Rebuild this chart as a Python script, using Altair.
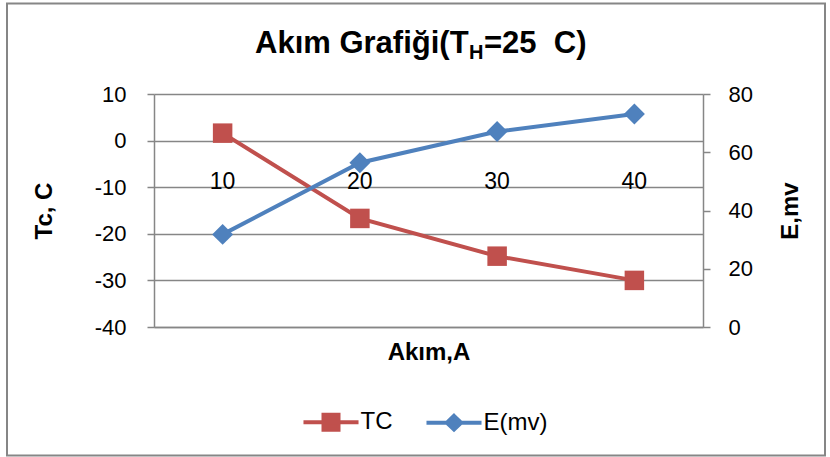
import altair as alt
import pandas as pd

# ---- data ----
akim = ["10", "20", "30", "40"]
tc = [1.6, -16.7, -24.8, -30.0]
e_mv = [31.8, 56.4, 67.1, 73.1]
series = ["TC", "E(mv)"]
colors = ["#C0504D", "#4F81BD"]
left_ticks = [-40, -30, -20, -10, 0, 10]
right_ticks = [0, 20, 40, 60, 80]
title_parts = ["Akım Grafiği(T", "H", "=25\u00a0\u00a0C)"]

FONT = "Liberation Sans"
GRID = "#868686"
W, H = 549, 233

df = pd.DataFrame({"Akım": akim, "TC": tc, "E": e_mv})
legend_df = pd.DataFrame({"series": series})
one = pd.DataFrame({"k": [0]})

x_enc = alt.X(
    "Akım:O", sort=akim,
    scale=alt.Scale(type="point", padding=0.5),
    axis=alt.Axis(title="Akım,A", labels=False, ticks=False, domain=True,
                  domainColor=GRID, domainWidth=1.5, titleFont=FONT,
                  titleFontSize=24, titleFontWeight="bold", titleColor="black",
                  titlePadding=13),
)

y_left = alt.Y(
    "TC:Q", scale=alt.Scale(domain=[-40, 10], nice=False, zero=False),
    axis=alt.Axis(orient="left", values=left_ticks, grid=True, gridColor=GRID,
                  gridWidth=1.5, domainColor=GRID, domainWidth=1.5,
                  tickColor=GRID, tickWidth=1.5, tickSize=7,
                  labelExpr="'' + datum.value",
                  labelFont=FONT, labelFontSize=22, labelColor="black",
                  labelPadding=21, title="Tc, C", titleFont=FONT,
                  titleFontSize=24, titleFontWeight="bold", titleColor="black",
                  titlePadding=38),
)

y_right = alt.Y(
    "E:Q", scale=alt.Scale(domain=[0, 80], nice=False),
    axis=alt.Axis(orient="right", values=right_ticks, grid=False,
                  domainColor=GRID, domainWidth=1.5,
                  tickColor=GRID, tickWidth=1.5, tickSize=7,
                  labelFont=FONT, labelFontSize=22, labelColor="black",
                  labelPadding=18, title="E,mv", titleAngle=270, titleFont=FONT,
                  titleFontSize=24, titleFontWeight="bold", titleColor="black",
                  titlePadding=50),
)

base = alt.Chart(df)

tc_line = base.mark_line(color=colors[0], strokeWidth=4).encode(x=x_enc, y=y_left)
tc_pts = base.mark_point(shape="square", filled=True, size=380, color=colors[0],
                         opacity=1).encode(x=x_enc, y=y_left)

xlabels = base.mark_text(font=FONT, fontSize=23, color="black",
                         baseline="alphabetic").encode(
    x=x_enc, y=alt.value(95), text="Akım:N")

leg_params = dict(title=None, orient="none", legendX=145, legendY=316,
                  direction="horizontal", symbolSize=225, symbolStrokeWidth=4,
                  symbolOffset=20, labelOffset=17.5, columnPadding=25,
                  labelFont=FONT, labelFontSize=24, labelColor="black",
                  padding=0)
shape_paths = ["M-3.67,0H3.67M-1,-1H1V1H-1Z",
               "M-3.67,0H3.67M0,-0.9L0.95,0L0,0.9L-0.95,0Z"]
legend_layer = alt.Chart(legend_df).transform_filter("false").mark_point(
    filled=True, strokeWidth=4, opacity=1).encode(
    fill=alt.Fill("series:N", scale=alt.Scale(domain=series, range=colors),
                  legend=alt.Legend(**leg_params)),
    stroke=alt.Stroke("series:N", scale=alt.Scale(domain=series, range=colors),
                      legend=alt.Legend(**leg_params)),
    shape=alt.Shape("series:N", scale=alt.Scale(domain=series, range=shape_paths),
                    legend=alt.Legend(**leg_params)),
)

border = alt.Chart(one).mark_rect(fillOpacity=0, stroke=GRID, strokeWidth=2).encode(
    x=alt.value(-147), x2=alt.value(671), y=alt.value(-90.5), y2=alt.value(361.5))

t1 = alt.Chart(one).mark_text(font=FONT, fontSize=31, fontWeight="bold",
                              color="black", align="right",
                              baseline="alphabetic").encode(
    x=alt.value(314.6), y=alt.value(-41), text=alt.value(title_parts[0]))
t2 = alt.Chart(one).mark_text(font=FONT, fontSize=20, fontWeight="bold",
                              color="black", align="left",
                              baseline="alphabetic").encode(
    x=alt.value(315), y=alt.value(-35), text=alt.value(title_parts[1]))
t3 = alt.Chart(one).mark_text(font=FONT, fontSize=31, fontWeight="bold",
                              color="black", align="left",
                              baseline="alphabetic").encode(
    x=alt.value(330), y=alt.value(-41), text=alt.value(title_parts[2]))

e_line = base.mark_line(color=colors[1], strokeWidth=4).encode(x=x_enc, y=y_right)
e_pts = base.mark_point(shape="diamond", filled=True, size=440, color=colors[1],
                        opacity=1).encode(x=x_enc, y=y_right)

left = alt.layer(border, tc_line, tc_pts, xlabels, legend_layer, t1, t2, t3)
right = alt.layer(e_line, e_pts)

chart = alt.layer(left, right).resolve_scale(y="independent").properties(
    width=W, height=H,
    autosize=alt.AutoSizeParams(type="none"),
    padding={"left": 154, "top": 94, "right": 127, "bottom": 130},
    background="white",
).configure_view(stroke="transparent")

chart.save("out.html", embed_options={"renderer": "svg", "actions": False})
